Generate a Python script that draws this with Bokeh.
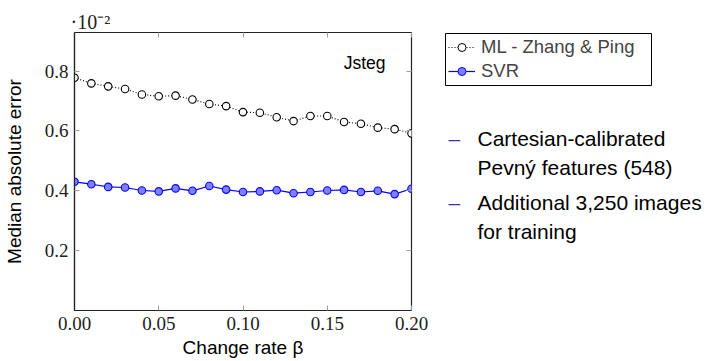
from bokeh.plotting import figure
from bokeh.layouts import row
from bokeh.models import Range1d, FixedTicker, LinearAxis, Label, Legend, LegendItem, NumeralTickFormatter
from bokeh.embed import file_html
from bokeh.resources import INLINE

# ---- data ----
beta = [0.00, 0.01, 0.02, 0.03, 0.04, 0.05, 0.06, 0.07, 0.08, 0.09, 0.10,
        0.11, 0.12, 0.13, 0.14, 0.15, 0.16, 0.17, 0.18, 0.19, 0.20]
ml_zhang_ping = [0.778, 0.759, 0.749, 0.740, 0.722, 0.716, 0.718, 0.705, 0.690, 0.683, 0.663,
                 0.661, 0.646, 0.633, 0.650, 0.650, 0.630, 0.624, 0.611, 0.606, 0.592]
svr = [0.430, 0.422, 0.413, 0.411, 0.401, 0.398, 0.408, 0.400, 0.416, 0.404, 0.396,
       0.398, 0.402, 0.392, 0.396, 0.401, 0.403, 0.396, 0.400, 0.389, 0.407]
x_ticks = [0.00, 0.05, 0.10, 0.15, 0.20]
y_ticks = [0.2, 0.4, 0.6, 0.8]
series_names = ["ML - Zhang & Ping", "SVR"]
panel_title = "Jsteg"
scale_note = "·10⁻²"
x_label = "Change rate β"
y_label = "Median absolute error"
bullets = [["Cartesian-calibrated", "Pevný features (548)"],
           ["Additional 3,250 images", "for training"]]

# ---- layout ----
W, H = 705, 361
W1 = 432
FL, FR, FT, FB = 74, 411, 32, 310
X0, X1 = 0.0, 0.2
Y0, Y1 = 0.0, 0.929
LEG_L, LEG_R, LEG_T, LEG_B = 445, 651, 33, 85

def dx(px):
    return X0 + (px - FL) / (FR - FL) * (X1 - X0)

def dy(py):
    return Y0 + (FB - py) / (FB - FT) * (Y1 - Y0)

SANS = "Liberation Sans"
SERIF = "Liberation Serif"
AXC = "#222222"
TICKC = "#a0a0a0"
BLUE = "#0000ff"
STRUCT = "#3333b3"

p = figure(width=W1, height=H, output_backend="svg", toolbar_location=None,
           x_range=Range1d(X0, X1), y_range=Range1d(Y0, Y1),
           min_border_left=FL, min_border_right=W1 - FR,
           min_border_top=FT, min_border_bottom=H - FB)
p.grid.visible = False
p.outline_line_color = AXC
p.outline_line_width = 1.2
p.background_fill_color = "white"
p.border_fill_color = "white"

p.title.text = scale_note
p.title.text_font = SERIF
p.title.text_font_size = "20px"
p.title.text_font_style = "normal"
p.title.text_color = "#222222"
p.title.align = "left"
p.title.offset = -4
p.title.standoff = 0

xa = p.xaxis[0]
xa.ticker = FixedTicker(ticks=x_ticks)
xa.formatter = NumeralTickFormatter(format="0.00")
ya = p.yaxis[0]
ya.ticker = FixedTicker(ticks=y_ticks)
ya.formatter = NumeralTickFormatter(format="0.0")
for ax in (xa, ya):
    ax.major_tick_in = 5
    ax.major_tick_out = 0
    ax.minor_tick_line_color = None
    ax.major_tick_line_color = TICKC
    ax.axis_line_color = AXC
    ax.axis_line_width = 1.2
    ax.major_label_text_font = SERIF
    ax.major_label_text_font_size = "19px"
    ax.major_label_text_color = "#222222"
    ax.axis_label_text_font = SANS
    ax.axis_label_text_font_size = "19px"
    ax.axis_label_text_font_style = "normal"
    ax.axis_label_text_color = "black"
xa.axis_label = x_label
ya.axis_label = y_label
xa.major_label_standoff = 6
ya.major_label_standoff = 6
xa.axis_label_standoff = 4
ya.axis_label_standoff = 17

for side, ticks in (("above", x_ticks), ("right", y_ticks)):
    ax = LinearAxis(ticker=FixedTicker(ticks=ticks), major_tick_in=5, major_tick_out=0,
                    minor_tick_line_color=None, major_tick_line_color=TICKC,
                    axis_line_color=None, major_label_text_font_size="1px",
                    major_label_text_alpha=0, major_label_standoff=0)
    p.add_layout(ax, side)

r_ml_line = p.line(beta, ml_zhang_ping, line_color="black", line_width=1.1, line_dash="1 2")
r_ml_pts = p.scatter(beta, ml_zhang_ping, marker="circle", size=7.5, fill_color="white",
                     line_color="black", line_width=1.1)
r_svr_line = p.line(beta, svr, line_color=BLUE, line_width=1.2)
r_svr_pts = p.scatter(beta, svr, marker="circle", size=7.5, fill_color="#8080ff",
                      line_color=BLUE, line_width=1.1)

p.add_layout(Label(x=dx(385), y=dy(62), text=panel_title, text_align="right",
                   text_baseline="alphabetic", text_font=SANS, text_font_size="17.5px",
                   text_color="black"))

# ---- right-hand panel: legend and bullet list (page-pixel coordinates) ----
# the row layout aligns this panel's frame with the main frame (FT..FB)
q = figure(width=W - W1, height=H, output_backend="svg", toolbar_location=None,
           x_range=Range1d(W1, W), y_range=Range1d(FB, FT),
           min_border_left=0, min_border_right=0, min_border_top=FT, min_border_bottom=H - FB)
q.axis.visible = False
q.grid.visible = False
q.outline_line_color = None
q.background_fill_color = "white"
q.border_fill_color = "white"

# legend frame
q.quad(left=[LEG_L], right=[LEG_R], top=[LEG_T], bottom=[LEG_B],
       fill_color=None, line_color="black", line_width=1)

# proxy renderers (placed off the visible range) that only feed the legend glyphs
off_x, off_y = [0], [0]
k_ml_line = q.line(off_x, off_y, line_color="black", line_width=1.0, line_dash="1 2")
k_ml_pts = q.scatter(off_x, off_y, marker="circle", size=6.5, fill_color="white",
                     line_color="black", line_width=1.0)
k_svr_line = q.line(off_x, off_y, line_color=BLUE, line_width=1.2)
k_svr_pts = q.scatter(off_x, off_y, marker="circle", size=6.5, fill_color="#8080ff",
                      line_color=BLUE, line_width=1.0)

legend = Legend(items=[LegendItem(label=series_names[0], renderers=[k_ml_line, k_ml_pts]),
                       LegendItem(label=series_names[1], renderers=[k_svr_line, k_svr_pts])],
                location=(LEG_L + 3 - W1, FB - LEG_B + 2), padding=0, spacing=0, margin=0,
                label_height=24, glyph_width=27, glyph_height=20, label_standoff=6,
                label_text_font=SANS, label_text_font_size="18.5px",
                label_text_baseline="middle",
                border_line_color=None, background_fill_alpha=0)
q.add_layout(legend)

rows = [(138, 167), (202, 231)]
for (r1, r2), lines in zip(rows, bullets):
    q.add_layout(Label(x=448, y=r1, text="–", text_align="left",
                       text_baseline="middle", text_font=SANS, text_font_size="21px",
                       text_color=STRUCT))
    for ry, t in zip((r1, r2), lines):
        q.add_layout(Label(x=477, y=ry, text=t, text_align="left",
                           text_baseline="middle", text_font=SANS, text_font_size="21px",
                           text_color="black"))

layout = row(p, q, spacing=0)
open("out.html", "w").write(file_html(layout, INLINE))
